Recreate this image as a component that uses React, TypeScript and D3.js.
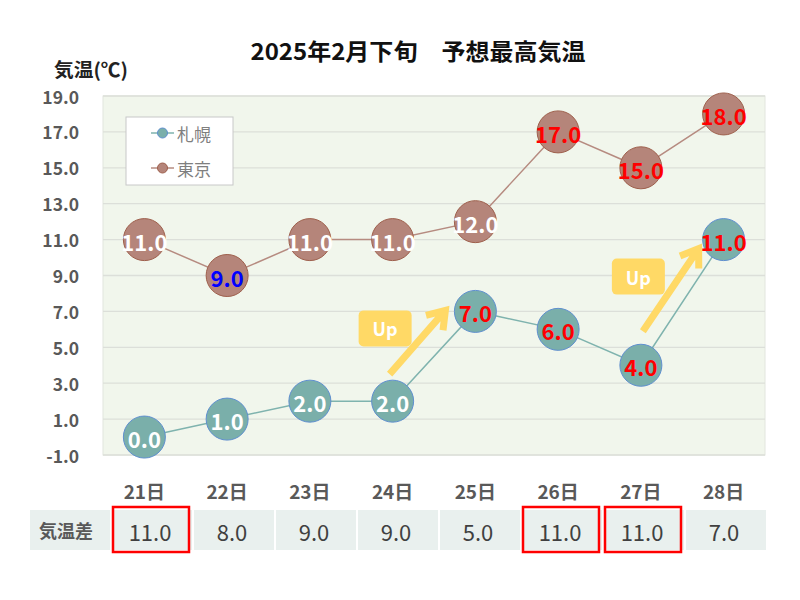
import React from "react";
import * as d3 from "d3";

const days = ["21日", "22日", "23日", "24日", "25日", "26日", "27日", "28日"];
const sapporo = [0, 1, 2, 2, 7, 6, 4, 11];
const tokyo = [11, 9, 11, 11, 12, 17, 15, 18];
const sapporoLabelColors = ["#fff", "#fff", "#fff", "#fff", "#ff0000", "#ff0000", "#ff0000", "#ff0000"];
const tokyoLabelColors = ["#fff", "#0000ff", "#fff", "#fff", "#fff", "#ff0000", "#ff0000", "#ff0000"];
const diffs = [11, 8, 9, 9, 5, 11, 11, 7];
const highlighted = [true, false, false, false, false, true, true, false];
const yTicks = [-1, 1, 3, 5, 7, 9, 11, 13, 15, 17, 19];
const seriesNames = ["札幌", "東京"];

const FONT = "'Noto Sans CJK JP', 'Noto Sans', sans-serif";

export default function App() {
  const W = 800, H = 600;
  const plot = { left: 103, right: 765, top: 96, bottom: 455 };
  const x = d3.scaleBand<string>().domain(days).range([plot.left, plot.right]);
  const y = d3.scaleLinear().domain([-1, 19]).range([plot.bottom, plot.top]);
  const cx = (i: number) => (x(days[i]) as number) + x.bandwidth() / 2;
  const tableCols = ["label", ...days];
  const tx = d3.scaleBand<string>().domain(tableCols).range([29, 767]);

  const line = d3.line<number>().x((_, i) => cx(i)).y((d) => y(d));

  const sapColor = "#7fb3ae";
  const sapFill = "#7aafaa";
  const sapStroke = "#5f8fcf";
  const tokColor = "#b68b80";
  const tokFill = "#b5857a";
  const tokStroke = "#9e5f4c";
  const R = 21;

  const arrow = (x1: number, y1: number, x2: number, y2: number) => {
    const ang = Math.atan2(y2 - y1, x2 - x1);
    const hl = 20;
    const a1 = ang + Math.PI - 0.6, a2 = ang + Math.PI + 0.6;
    return `M${x1},${y1}L${x2},${y2}M${x2 + hl * Math.cos(a1)},${y2 + hl * Math.sin(a1)}L${x2},${y2}L${x2 + hl * Math.cos(a2)},${y2 + hl * Math.sin(a2)}`;
  };

  const upBox = (bx: number, by: number) => (
    <g>
      <rect x={bx} y={by} width={53} height={36} rx={5} fill="#ffd966" />
      <text x={bx + 26.5} y={by + 18} textAnchor="middle" dominantBaseline="central" fill="#fff" fontWeight="bold" fontSize={18} fontFamily={FONT}>Up</text>
    </g>
  );

  return (
    <svg width={W} height={H} style={{ display: "block", margin: "-8px" }} viewBox={`0 0 ${W} ${H}`}>
      <rect width={W} height={H} fill="#fff" />
      <text x={418} y={50} textAnchor="middle" dominantBaseline="central" fontFamily={FONT} fontWeight="bold" fontSize={23} fill="#111" textLength={335} lengthAdjust="spacingAndGlyphs">2025年2月下旬　予想最高気温</text>
      <text x={54} y={68} dominantBaseline="central" fontFamily={FONT} fontWeight="bold" fontSize={19} fill="#222" textLength={74} lengthAdjust="spacingAndGlyphs">気温(℃)</text>

      <rect x={plot.left} y={plot.top} width={plot.right - plot.left} height={plot.bottom - plot.top} fill="#f1f6ec" stroke="#e2e6de" />
      {yTicks.map((t) => (
        <g key={t}>
          <line x1={plot.left} x2={plot.right} y1={y(t)} y2={y(t)} stroke="#dcdfd9" strokeWidth={1.3} />
          <text x={79} y={y(t)} textAnchor="end" dominantBaseline="central" fontFamily={FONT} fontWeight="bold" fontSize={17.5} fill="#595959">{t.toFixed(1)}</text>
        </g>
      ))}

      <path d={line(tokyo) as string} fill="none" stroke={tokColor} strokeWidth={1.5} />
      <path d={line(sapporo) as string} fill="none" stroke={sapColor} strokeWidth={1.5} />

      {tokyo.map((v, i) => (
        <g key={"t" + i}>
          <circle cx={cx(i)} cy={y(v)} r={R} fill={tokFill} stroke={tokStroke} strokeWidth={1} />
          <text x={cx(i)} y={y(v) + 1} textAnchor="middle" dominantBaseline="central" fontFamily={FONT} fontWeight="bold" fontSize={22} fill={tokyoLabelColors[i]}>{v.toFixed(1)}</text>
        </g>
      ))}
      {sapporo.map((v, i) => (
        <g key={"s" + i}>
          <circle cx={cx(i)} cy={y(v)} r={R} fill={sapFill} stroke={sapStroke} strokeWidth={1} />
          <text x={cx(i)} y={y(v) + 1} textAnchor="middle" dominantBaseline="central" fontFamily={FONT} fontWeight="bold" fontSize={22} fill={sapporoLabelColors[i]}>{v.toFixed(1)}</text>
        </g>
      ))}

      {/* Up annotations */}
      <path d={arrow(cx(3) - 3, y(2) - 27, cx(4) - 30, y(7) - 1)} fill="none" stroke="#ffd966" strokeWidth={7} strokeLinejoin="miter" />
      {upBox(cx(3) - 34, y(7) - 1)}
      <path d={arrow(cx(6) + 2, y(4) - 34, cx(7) - 25, y(11) + 9)} fill="none" stroke="#ffd966" strokeWidth={7} strokeLinejoin="miter" />
      {upBox(cx(6) - 29, y(11) + 19)}

      {/* legend */}
      <rect x={126} y={117} width={107} height={68} fill="#fff" stroke="#c8c8c8" />
      {seriesNames.map((n, i) => {
        const ly = 133 + i * 35;
        const c = i === 0 ? sapColor : tokColor;
        const f = i === 0 ? sapFill : tokFill;
        const s = i === 0 ? sapStroke : tokStroke;
        return (
          <g key={n}>
            <line x1={151} x2={174} y1={ly} y2={ly} stroke={c} strokeWidth={1.5} />
            <circle cx={162.5} cy={ly} r={5} fill={f} stroke={s} strokeWidth={1} />
            <text x={177} y={ly} dominantBaseline="central" fontFamily={FONT} fontSize={17} fill="#7f7f7f">{n}</text>
          </g>
        );
      })}

      {/* x labels */}
      {days.map((d, i) => (
        <text key={d} x={cx(i)} y={490} textAnchor="middle" dominantBaseline="central" fontFamily={FONT} fontWeight="bold" fontSize={19} fill="#595959">{d}</text>
      ))}

      {/* table */}
      {tableCols.map((c) => (
        <rect key={c} x={(tx(c) as number) + 1} y={510} width={tx.bandwidth() - 2} height={40} fill="#e9f0ee" />
      ))}
      <text x={(tx("label") as number) + tx.bandwidth() / 2 - 4} y={530} textAnchor="middle" dominantBaseline="central" fontFamily={FONT} fontWeight="bold" fontSize={18} fill="#595959">気温差</text>
      {diffs.map((v, i) => (
        <g key={"d" + i}>
          <text x={(tx(days[i]) as number) + tx.bandwidth() / 2 - 2} y={531} textAnchor="middle" dominantBaseline="central" fontFamily={FONT} fontSize={22} fill="#404040">{v.toFixed(1)}</text>
          {highlighted[i] && (
            <rect x={(tx(days[i]) as number) + 2} y={507} width={tx.bandwidth() - 6} height={45} fill="none" stroke="#ff0000" strokeWidth={2.5} />
          )}
        </g>
      ))}
    </svg>
  );
}
